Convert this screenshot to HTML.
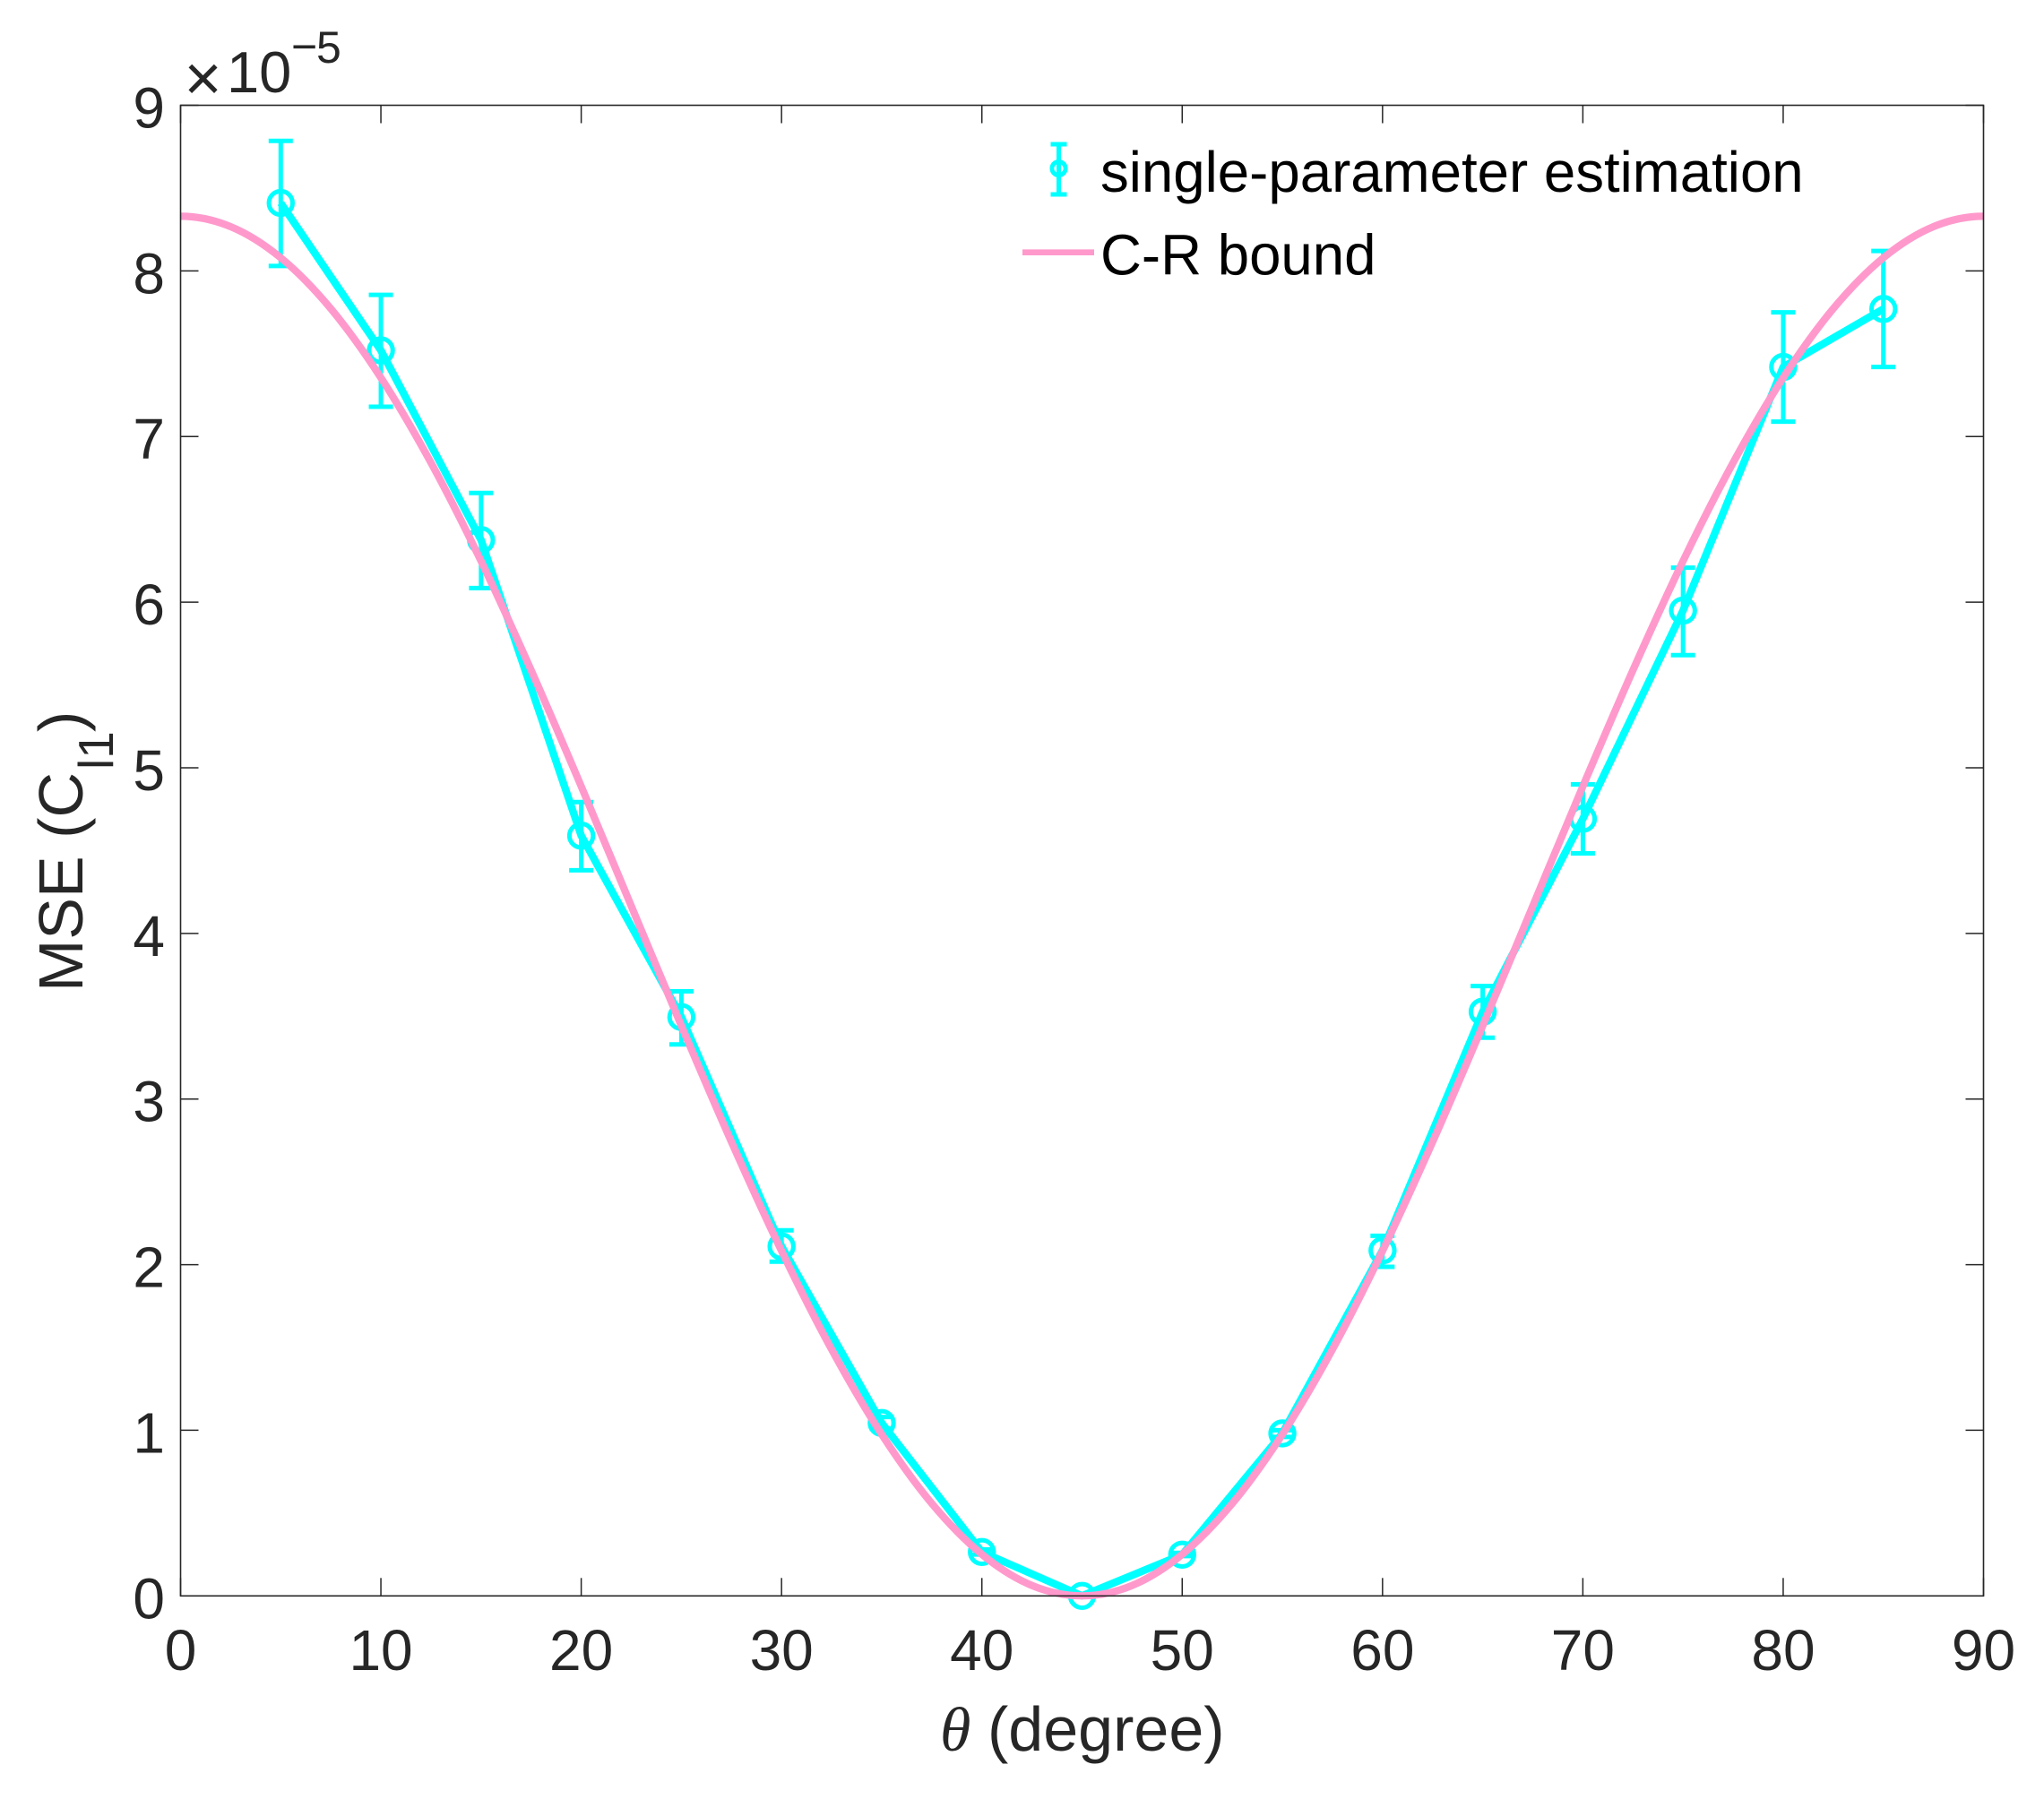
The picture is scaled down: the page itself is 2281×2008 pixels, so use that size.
<!DOCTYPE html>
<html lang="en">
<head>
<meta charset="utf-8">
<title>MSE vs theta</title>
<style>
html,body{margin:0;padding:0;background:#fff;}
svg{display:block;font-family:"Liberation Sans",sans-serif;}
</style>
</head>
<body>
<svg id="chart" xmlns="http://www.w3.org/2000/svg" width="2281" height="2008" viewBox="0 0 2281 2008">
  <rect x="0" y="0" width="2281" height="2008" fill="#ffffff"/>
  <g id="ticks"></g>
  <g id="series"></g>
  <rect x="201.5" y="117.5" width="2012" height="1663.8" fill="none" stroke="#262626" stroke-width="1.6"/>
  <g id="xlabels"></g>
  <g id="ylabels"></g>

  <g fill="#262626">
    <text x="205.5" y="112" font-size="72">×</text>
    <text x="253" y="103" font-size="65">10</text>
    <text x="325" y="69" font-size="50">−</text>
    <text x="353" y="70" font-size="50">5</text>
  </g>

  <text y="1954" font-size="70" fill="#262626"><tspan x="1049" font-family="'Liberation Serif',serif" font-style="italic">θ</tspan><tspan x="1102">(degree)</tspan></text>

  <g fill="#262626">
    <text transform="translate(92,1107) rotate(-90)" font-size="70">MSE (C</text>
    <text transform="translate(126,859) rotate(-90)" font-size="55">l1</text>
    <text transform="translate(92,817) rotate(-90)" font-size="70">)</text>
  </g>

  <g>
    <g>
      <line x1="1181.5" y1="161" x2="1181.5" y2="217" stroke="#00ffff" stroke-width="5"/>
      <line x1="1172.5" y1="161" x2="1190.5" y2="161" stroke="#00ffff" stroke-width="5"/>
      <line x1="1172.5" y1="217" x2="1190.5" y2="217" stroke="#00ffff" stroke-width="5"/>
      <circle cx="1181.5" cy="188" r="7.6" fill="none" stroke="#00ffff" stroke-width="4.8"/>
      <text x="1228" y="214" font-size="63.6" fill="#000000">single-parameter estimation</text>
    </g>
    <g>
      <line x1="1141" y1="281.7" x2="1221" y2="281.7" stroke="#ff99cc" stroke-width="6.6"/>
      <text x="1228" y="306.7" font-size="63.6" fill="#000000">C-R bound</text>
    </g>
  </g>
</svg>

<script>
// Chart data (MSE values are in units of 1e-5)
const xTickLabels = [0, 10, 20, 30, 40, 50, 60, 70, 80, 90];
const yTickLabels = [0, 1, 2, 3, 4, 5, 6, 7, 8, 9];
const estTheta = [5, 10, 15, 20, 25, 30, 35, 40, 45, 50, 55, 60, 65, 70, 75, 80, 85];
const estMse = [8.41, 7.52, 6.375, 4.59, 3.495, 2.11, 1.044, 0.265, 0.0, 0.249, 0.981, 2.086, 3.527, 4.692, 5.949, 7.42, 7.77];
const estUpper = [8.785, 7.855, 6.659, 4.793, 3.65, 2.207, 1.08, 0.28, 0.0, 0.26, 1.0, 2.174, 3.682, 4.9, 6.208, 7.75, 8.12];
const estLower = [8.03, 7.18, 6.085, 4.381, 3.33, 2.018, 1.01, 0.25, 0.0, 0.24, 0.96, 1.987, 3.37, 4.483, 5.68, 7.09, 7.42];
const boundTheta = [0, 2.5, 5, 7.5, 10, 12.5, 15, 17.5, 20, 22.5, 25, 27.5, 30, 32.5, 35, 37.5, 40, 42.5, 45, 47.5, 50, 52.5, 55, 57.5, 60, 62.5, 65, 67.5, 70, 72.5, 75, 77.5, 80, 82.5, 85, 87.5, 90];
const boundMse = [8.33, 8.267, 8.079, 7.772, 7.355, 6.842, 6.248, 5.589, 4.888, 4.165, 3.442, 2.741, 2.083, 1.488, 0.975, 0.558, 0.251, 0.063, 0.0, 0.063, 0.251, 0.558, 0.975, 1.488, 2.083, 2.741, 3.442, 4.165, 4.888, 5.589, 6.248, 6.842, 7.355, 7.772, 8.079, 8.267, 8.33];

const NS = 'http://www.w3.org/2000/svg';
const plot = { left: 201.5, right: 2213.5, top: 117.5, bottom: 1781.3 };
const xMin = 0, xMax = 90, yMin = 0, yMax = 9;
const INK = '#262626', CYAN = '#00ffff', PINK = '#ff99cc';

function xScale(v) { return plot.left + (v - xMin) / (xMax - xMin) * (plot.right - plot.left); }
function yScale(v) { return plot.bottom - (v - yMin) / (yMax - yMin) * (plot.bottom - plot.top); }

function make(tag, attrs, parent) {
  const el = document.createElementNS(NS, tag);
  for (const k in attrs) el.setAttribute(k, attrs[k]);
  parent.appendChild(el);
  return el;
}

const ticksG = document.getElementById('ticks');
const seriesG = document.getElementById('series');
const xLabelsG = document.getElementById('xlabels');
const yLabelsG = document.getElementById('ylabels');
const TICK = 20;

xTickLabels.forEach(function (t) {
  const x = xScale(t);
  const a = make('line', { x1: x, x2: x, y1: plot.bottom, y2: plot.bottom - TICK, stroke: INK, 'stroke-width': 1.5 }, ticksG);
  
  
  const b = make('line', { x1: x, x2: x, y1: plot.top, y2: plot.top + TICK, stroke: INK, 'stroke-width': 1.5 }, ticksG);
  
  
  const l = make('text', { x: x, y: 1864, 'text-anchor': 'middle', 'font-size': 64, fill: INK }, xLabelsG);
  l.textContent = String(t);
  
  
});

yTickLabels.forEach(function (t) {
  const y = yScale(t);
  const a = make('line', { x1: plot.left, x2: plot.left + TICK, y1: y, y2: y, stroke: INK, 'stroke-width': 1.5 }, ticksG);
  
  
  const b = make('line', { x1: plot.right, x2: plot.right - TICK, y1: y, y2: y, stroke: INK, 'stroke-width': 1.5 }, ticksG);
  
  
  const l = make('text', { x: 184, y: y + 25, 'text-anchor': 'end', 'font-size': 64, fill: INK }, yLabelsG);
  l.textContent = String(t);
  
  
});

// Estimation series: connecting line, error bars, circle markers
const estPoints = estTheta.map(function (t, i) { return xScale(t) + ',' + yScale(estMse[i]); }).join(' ');
const estLine = make('polyline', { points: estPoints, fill: 'none', stroke: CYAN, 'stroke-width': 8.4, 'stroke-linejoin': 'round' }, seriesG);



const CAP = 13.5;
estTheta.forEach(function (t, i) {
  const x = xScale(t);
  const yHi = yScale(estUpper[i]);
  const yLo = yScale(estLower[i]);
  const stem = make('line', { x1: x, x2: x, y1: yHi, y2: yLo, stroke: CYAN, 'stroke-width': 5 }, seriesG);
  
  
  const capTop = make('line', { x1: x - CAP, x2: x + CAP, y1: yHi, y2: yHi, stroke: CYAN, 'stroke-width': 5 }, seriesG);
  
  
  const capBottom = make('line', { x1: x - CAP, x2: x + CAP, y1: yLo, y2: yLo, stroke: CYAN, 'stroke-width': 5 }, seriesG);
  
  
  const marker = make('circle', { cx: x, cy: yScale(estMse[i]), r: 13.2, fill: 'none', stroke: CYAN, 'stroke-width': 5 }, seriesG);
  
  
});

// C-R bound: smooth curve through the read values, flat at both ends
function smoothPath(xs, ys) {
  const p = xs.map(function (t, i) { return [xScale(t), yScale(ys[i])]; });
  const n = p.length;
  function at(i) {
    if (i < 0) return [2 * p[0][0] - p[1][0], p[1][1]];
    if (i >= n) return [2 * p[n - 1][0] - p[n - 2][0], p[n - 2][1]];
    return p[i];
  }
  let d = 'M' + p[0][0] + ' ' + p[0][1];
  for (let i = 0; i < n - 1; i++) {
    const p0 = at(i - 1), p1 = at(i), p2 = at(i + 1), p3 = at(i + 2);
    const c1x = p1[0] + (p2[0] - p0[0]) / 6, c1y = p1[1] + (p2[1] - p0[1]) / 6;
    const c2x = p2[0] - (p3[0] - p1[0]) / 6, c2y = p2[1] - (p3[1] - p1[1]) / 6;
    d += 'C' + c1x + ' ' + c1y + ' ' + c2x + ' ' + c2y + ' ' + p2[0] + ' ' + p2[1];
  }
  return d;
}
const boundLine = make('path', { d: smoothPath(boundTheta, boundMse), fill: 'none', stroke: PINK, 'stroke-width': 8.2, 'stroke-linejoin': 'round' }, seriesG);


</script>
</body>
</html>
